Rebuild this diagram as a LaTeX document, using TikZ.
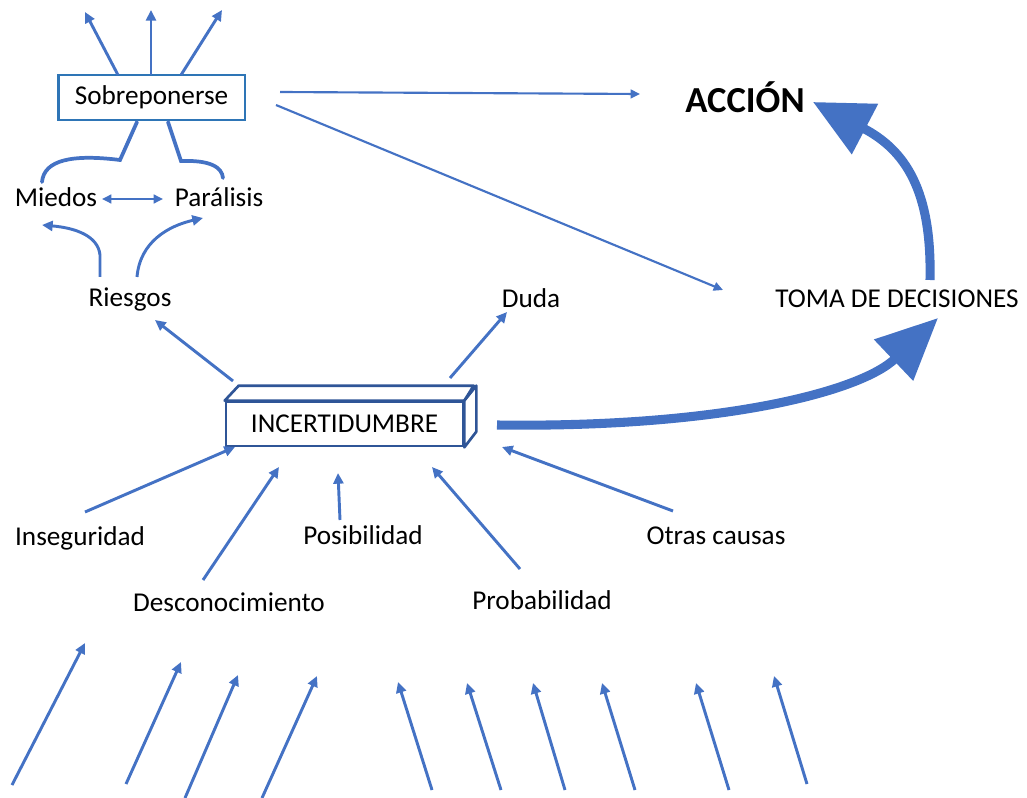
\documentclass[tikz,border=0pt]{standalone}
\usepackage{fontspec}
\setmainfont{Carlito}
\usetikzlibrary{arrows.meta}
\definecolor{ln}{HTML}{4472C4}
\definecolor{bx}{HTML}{2E75B6}
\definecolor{dk}{HTML}{2F5597}
\begin{document}
\begin{tikzpicture}[x=0.75pt,y=-0.75pt,
  lbl/.style={font=\fontsize{20.4}{24}\selectfont, inner sep=0pt, text=black},
  arr/.style={draw=ln, line width=2.2pt, -{Triangle[length=8pt,width=7.5pt]}},
  thinarr/.style={draw=ln, line width=1.6pt, -{Triangle[length=7pt,width=6.5pt]}},
  dbl/.style={draw=ln, line width=2pt, {Triangle[length=7pt,width=6.5pt]}-{Triangle[length=7pt,width=6.5pt]}},
  brace/.style={draw=ln, line width=2.8pt, line cap=round},
  fat/.style={draw=ln, line width=6.8pt, -{Triangle[length=44pt,width=41pt]}},
  fatb/.style={draw=ln, line width=6.8pt, -{Triangle[length=46pt,width=41pt]}}]
\useasboundingbox (0,0) rectangle (1027,798);

% ---- nodes ----
\node[lbl, draw=bx, line width=2pt, fill=white, minimum width=140pt, minimum height=33.75pt] (sob) at (151.5,97.5) {Sobreponerse};
\node[lbl, font=\fontsize{27.5}{30}\selectfont\bfseries] (acc) at (745,97) {ACCIÓN};
\node[lbl] (mie) at (56,197) {Miedos};
\node[lbl] (par) at (219,197) {Parálisis};
\node[lbl] (rie) at (130,299) {Riesgos};
\node[lbl] (dud) at (531,298) {Duda};
\node[lbl] (tom) at (897,299) {TOMA DE DECISIONES};
\node[lbl, draw=dk, line width=2pt, fill=white, minimum width=177.75pt, minimum height=33pt] (inc) at (344.5,424) {INCERTIDUMBRE};
\draw[dk, line width=2pt, line join=round, fill=white] (inc.north west) -- ++(14,-15) -- ++(235,0) -- (inc.north east) -- cycle;
\draw[dk, line width=2pt, line join=round, fill=white] (inc.north east) -- ++(12,-15) -- ++(0,46) -- (inc.south east) -- cycle;
\node[lbl] (ins) at (80,538) {Inseguridad};
\node[lbl] (des) at (229,602) {Desconocimiento};
\node[lbl] (pos) at (363,535) {Posibilidad};
\node[lbl] (pro) at (542,600) {Probabilidad};
\node[lbl] (otr) at (716,536) {Otras causas};

% ---- named end points ----
\coordinate (s1) at (118,75);  \coordinate (t1) at (85,12);
\coordinate (s2) at (151,75);  \coordinate (t2) at (151,10);
\coordinate (s3) at (181,75);  \coordinate (t3) at (222,10);
\coordinate (sa) at (280,92);  \coordinate (ta) at (640,94);
\coordinate (sb) at (276,105); \coordinate (tb) at (723,290);
\coordinate (bl) at (137,122); \coordinate (br) at (168,122);
\coordinate (ml) at (102,199); \coordinate (mr) at (163,199);
\coordinate (rl) at (100,277); \coordinate (rr) at (137,277);
\coordinate (rlt) at (42,225); \coordinate (rrt) at (203,218);
\coordinate (ir) at (233,381); \coordinate (rt) at (155,320);
\coordinate (id) at (450,378); \coordinate (dt) at (507,312);
\coordinate (is) at (85,512);  \coordinate (isT) at (235,447);
\coordinate (ds) at (203,580); \coordinate (dsT) at (279,467);
\coordinate (ps) at (340,520); \coordinate (psT) at (338,473);
\coordinate (pr) at (520,569); \coordinate (prT) at (432,467);
\coordinate (os) at (673,511); \coordinate (osT) at (502,447);
\coordinate (fs) at (497,425); \coordinate (ft) at (938,318);
\coordinate (gs) at (930,280); \coordinate (gt) at (813,102);

% ---- connectors ----
\draw[arr] (s1) -- (t1);
\draw[arr] (s2) -- (t2);
\draw[arr] (s3) -- (t3);
\draw[thinarr] (sa) -- (ta);
\draw[thinarr] (sb) -- (tb);
\draw[brace] (bl) -- (120,160) .. controls (72,154) and (44,160) .. (42,182);
\draw[brace] (br) -- (181,161) .. controls (210,160) and (222,167) .. (223,178);
\draw[dbl] (ml) -- (mr);
\draw[arr] (rl) -- (100,255) .. controls (98,236) and (76,228) .. (rlt);
\draw[arr] (rr) .. controls (140,242) and (168,226) .. (rrt);
\draw[arr] (ir) -- (rt);
\draw[arr] (id) -- (dt);
\draw[arr] (is) -- (isT);
\draw[arr] (ds) -- (dsT);
\draw[arr] (ps) -- (psT);
\draw[arr] (pr) -- (prT);
\draw[arr] (os) -- (osT);
\draw[fatb] (fs) .. controls (720,428) and (860,392) .. (ft);
\draw[fat] (gs) .. controls (932,190) and (905,150) .. (gt);

% ---- free arrows at the bottom ----
\foreach \a/\b/\c/\d [count=\i] in {12/785/85/643, 126/784/181/662, 185/798/238/675, 262/798/317/676,
  432/790/398/682, 501/790/467/683, 565/790/533/683, 635/790/602/683, 729/790/696/683, 807/784/774/676}{
  \coordinate (u\i) at (\a,\b); \coordinate (v\i) at (\c,\d);
  \draw[arr] (u\i) -- (v\i);
}
\end{tikzpicture}
\end{document}
